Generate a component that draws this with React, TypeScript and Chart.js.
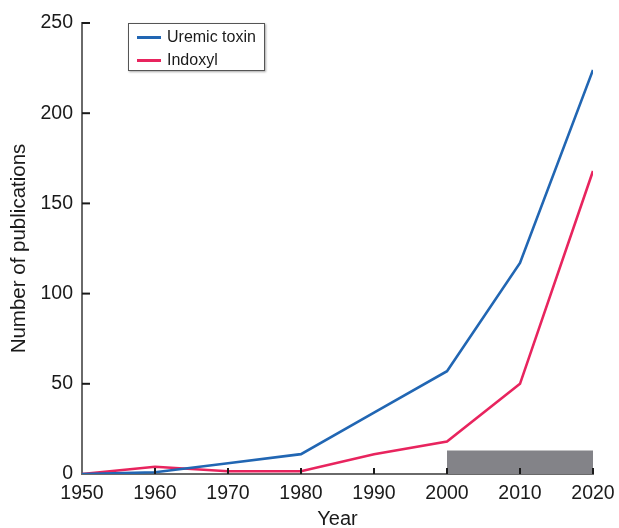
import React, { useEffect, useRef } from "react";
import { Chart, registerables } from "chart.js";

Chart.register(...registerables);

const years = [1950, 1960, 1970, 1980, 1990, 2000, 2010, 2020];
const uremicToxin = [0, 1, 6, 11, 34, 57, 117, 224];
const indoxyl = [0, 4, 1.5, 1.5, 11, 18, 50, 168];
const highlightYears = [2000, 2020];
const highlightLevel = [13, 13];
const yTicks = [0, 50, 100, 150, 200, 250];

const seriesNames = ["Uremic toxin", "Indoxyl"];
const BLUE = "#2166b3";
const PINK = "#e8245e";
const FONT = "'Liberation Sans', Arial, Helvetica, sans-serif";

const innerTicks = {
  id: "innerTicks",
  afterDraw(chart: any) {
    const { ctx } = chart;
    const x = chart.scales.x;
    const y = chart.scales.y;
    ctx.save();
    ctx.strokeStyle = "#1a1a1a";
    ctx.lineWidth = 2;
    x.ticks.forEach((t: any, i: number) => {
      if (i === 0) return;
      const px = x.getPixelForValue(t.value);
      ctx.beginPath();
      ctx.moveTo(px, x.top);
      ctx.lineTo(px, x.top - 6);
      ctx.stroke();
    });
    y.ticks.forEach((t: any, i: number) => {
      if (i === 0) return;
      const py = y.getPixelForValue(t.value);
      ctx.beginPath();
      ctx.moveTo(y.right, py);
      ctx.lineTo(y.right + 8, py);
      ctx.stroke();
    });
    ctx.restore();
  },
};

export default function App() {
  const canvasRef = useRef<HTMLCanvasElement | null>(null);

  useEffect(() => {
    document.body.style.margin = "0";
    const canvas = canvasRef.current;
    if (!canvas) return;
    const chart = new Chart(canvas, {
      type: "line",
      data: {
        datasets: [
          {
            label: seriesNames[0],
            data: years.map((yr, i) => ({ x: yr, y: uremicToxin[i] })),
            borderColor: BLUE,
            borderWidth: 2.6,
            pointRadius: 0,
            tension: 0,
            fill: false,
            order: 1,
          },
          {
            label: seriesNames[1],
            data: years.map((yr, i) => ({ x: yr, y: indoxyl[i] })),
            borderColor: PINK,
            borderWidth: 2.6,
            pointRadius: 0,
            tension: 0,
            fill: false,
            order: 2,
          },
          {
            label: "range",
            data: highlightYears.map((yr, i) => ({ x: yr, y: highlightLevel[i] })),
            borderWidth: 0,
            borderColor: "rgba(0,0,0,0)",
            backgroundColor: "#838388",
            pointRadius: 0,
            fill: "origin",
            order: 3,
          },
        ],
      },
      options: {
        responsive: false,
        animation: false,
        maintainAspectRatio: false,
        layout: { padding: { top: 23, right: 26, left: 0, bottom: 0 } },
        plugins: {
          legend: { display: false },
          tooltip: { enabled: false },
        },
        scales: {
          x: {
            type: "linear",
            min: 1950,
            max: 2020,
            afterFit: (s: any) => {
              s.height = 54;
              s.paddingLeft = 0;
              s.paddingRight = 0;
            },
            ticks: {
              stepSize: 10,
              padding: 8,
              color: "#1a1a1a",
              font: { family: FONT, size: 19.5 },
              callback: (v: any) => String(v),
              maxRotation: 0,
              autoSkip: false,
            },
            grid: { display: true, drawOnChartArea: false, drawTicks: false },
            border: { display: true, color: "#6a6a6a", width: 2 },
            title: {
              display: true,
              text: "Year",
              color: "#1a1a1a",
              font: { family: FONT, size: 20, lineHeight: 0.9 },
              padding: { top: 0, bottom: 0 },
            },
          },
          y: {
            type: "linear",
            min: 0,
            max: 250,
            afterFit: (s: any) => {
              s.width = 82;
              s.paddingTop = 0;
              s.paddingBottom = 0;
            },
            afterBuildTicks: (s: any) => {
              s.ticks = yTicks.map((v) => ({ value: v }));
            },
            ticks: {
              padding: 9,
              color: "#1a1a1a",
              font: { family: FONT, size: 19.5 },
            },
            grid: { display: true, drawOnChartArea: false, drawTicks: false },
            border: { display: true, color: "#6a6a6a", width: 2 },
            title: {
              display: true,
              text: "Number of publications",
              color: "#1a1a1a",
              font: { family: FONT, size: 20.5 },
              padding: { top: 7, bottom: 4 },
            },
          },
        },
      },
      plugins: [innerTicks],
    });
    return () => chart.destroy();
  }, []);

  const legendItems = [
    { name: seriesNames[0], color: BLUE },
    { name: seriesNames[1], color: PINK },
  ];

  return (
    <div style={{ position: "relative", width: 619, height: 528 }}>
      <canvas ref={canvasRef} width={619} height={528} style={{ display: "block" }} />
      <div
        style={{
          position: "absolute",
          left: 128,
          top: 23,
          width: 135,
          height: 46,
          border: "1px solid #555",
          boxShadow: "1px 1px 2px rgba(0,0,0,0.35)",
          background: "#fff",
          fontFamily: FONT,
          fontSize: 16,
          color: "#1a1a1a",
        }}
      >
        {legendItems.map((it, i) => (
          <div
            key={it.name}
            style={{
              position: "absolute",
              left: 8,
              top: 3 + i * 23,
              height: 20,
              display: "flex",
              alignItems: "center",
              whiteSpace: "nowrap",
            }}
          >
            <span
              style={{
                display: "inline-block",
                width: 24,
                height: 3,
                background: it.color,
                marginRight: 6,
              }}
            />
            <span>{it.name}</span>
          </div>
        ))}
      </div>
    </div>
  );
}
